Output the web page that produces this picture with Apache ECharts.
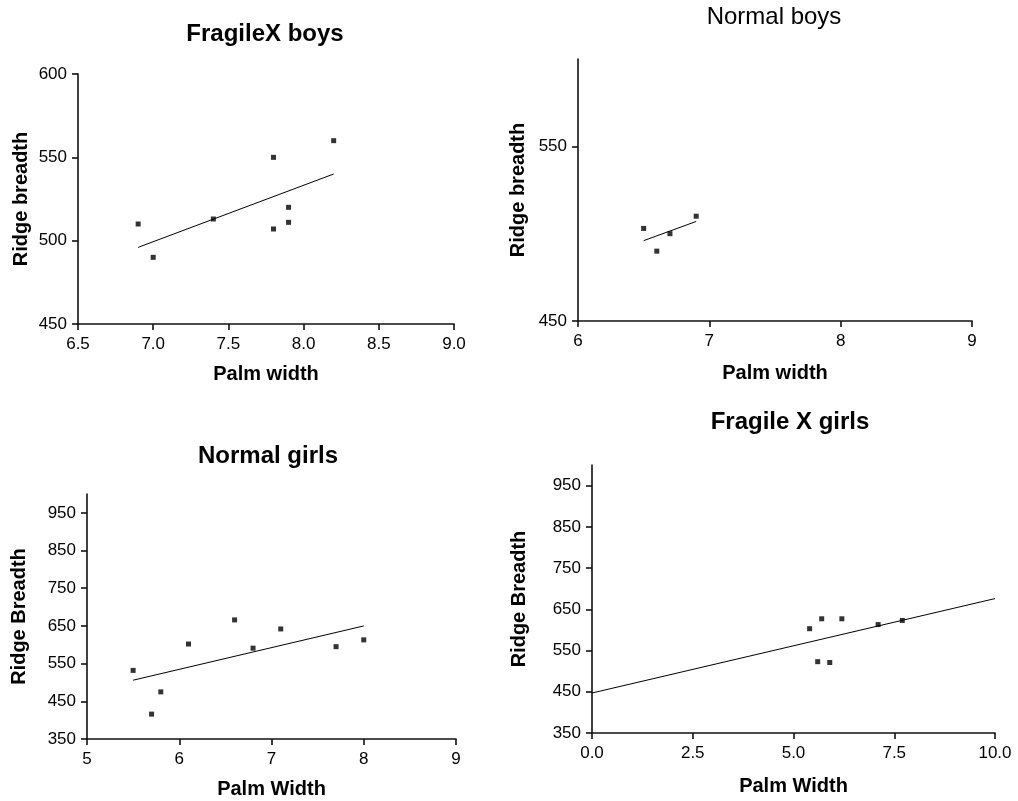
<!DOCTYPE html>
<html>
<head>
<meta charset="utf-8">
<script src="https://cdn.jsdelivr.net/npm/echarts@6/dist/echarts.min.js"></script>
<style>
html,body{margin:0;padding:0;background:#fff;}
#chart{width:1018px;height:801px;}
</style>
</head>
<body>
<div id="chart"></div>
<script>
// ---- Data ----
const panelTitles = ['FragileX boys', 'Normal boys', 'Normal girls', 'Fragile X girls'];
const xNames = ['Palm width', 'Palm width', 'Palm Width', 'Palm Width'];
const yNames = ['Ridge breadth', 'Ridge breadth', 'Ridge Breadth', 'Ridge Breadth'];

// FragileX boys
const fxBoysPalm  = [6.9, 7.0, 7.4, 7.8, 7.8, 7.9, 7.9, 8.2];
const fxBoysRidge = [510, 490, 513, 550, 507, 520, 511, 560];
const fxBoysFitX  = [6.9, 8.2];
const fxBoysFitY  = [496, 540];

// Normal boys
const nBoysPalm  = [6.5, 6.6, 6.7, 6.9];
const nBoysRidge = [503, 490, 500, 510];
const nBoysFitX  = [6.5, 6.9];
const nBoysFitY  = [496, 507];

// Normal girls
const nGirlsPalm  = [5.5, 5.7, 5.8, 6.1, 6.6, 6.8, 7.1, 7.7, 8.0];
const nGirlsRidge = [532, 416, 475, 602, 666, 591, 642, 595, 613];
const nGirlsFitX  = [5.5, 8.0];
const nGirlsFitY  = [506, 650];

// Fragile X girls
const fxGirlsPalm  = [5.4, 5.6, 5.7, 5.9, 6.2, 7.1, 7.7];
const fxGirlsRidge = [603, 523, 627, 521, 627, 613, 623];
const fxGirlsFitX  = [0, 10];
const fxGirlsFitY  = [447, 676];

// Axis ranges and tick labels
const xRanges = [[6.5, 9.0, 0.5], [6, 9, 1], [5, 9, 1], [0, 10, 2.5]];
const yRanges = [[450, 600], [450, 600], [350, 1000], [350, 1000]];
const yTicks = [
  [450, 500, 550, 600],
  [450, 550],
  [350, 450, 550, 650, 750, 850, 950],
  [350, 450, 550, 650, 750, 850, 950]
];
const xDecimals = [1, 0, 0, 1];

// ---- Layout ----
const grids = [
  {left: 78,  top: 74,  width: 376, height: 250},
  {left: 578, top: 59,  width: 394, height: 262},
  {left: 87,  top: 494, width: 369, height: 245},
  {left: 592, top: 465, width: 403, height: 268}
];
const titlePos = [
  {left: 265, top: 22, bold: true},
  {left: 774, top: 5, bold: false},
  {left: 268, top: 444, bold: true},
  {left: 790, top: 410, bold: true}
];
const yNameGaps = [47, 50, 58, 63];
const xNameGaps = [40, 42, 40, 43];

const FONT = '"Liberation Sans", Arial, sans-serif';
const axisLineStyle = {color: '#111', width: 1.6};

const pts = [
  [fxBoysPalm, fxBoysRidge, fxBoysFitX, fxBoysFitY],
  [nBoysPalm, nBoysRidge, nBoysFitX, nBoysFitY],
  [nGirlsPalm, nGirlsRidge, nGirlsFitX, nGirlsFitY],
  [fxGirlsPalm, fxGirlsRidge, fxGirlsFitX, fxGirlsFitY]
];

const option = {
  backgroundColor: '#fff',
  animation: false,
  title: panelTitles.map((t, i) => ({
    text: t,
    left: titlePos[i].left,
    top: titlePos[i].top,
    textAlign: 'center',
    padding: 0,
    textStyle: {
      fontFamily: FONT, fontSize: 24,
      fontWeight: titlePos[i].bold ? 'bold' : 'normal',
      color: '#000'
    }
  })),
  grid: grids,
  xAxis: grids.map((g, i) => ({
    type: 'value',
    gridIndex: i,
    min: xRanges[i][0], max: xRanges[i][1], interval: xRanges[i][2],
    name: xNames[i],
    nameLocation: 'middle',
    nameGap: xNameGaps[i],
    nameTextStyle: {fontFamily: FONT, fontSize: 20, fontWeight: 'bold', color: '#000'},
    axisLine: {show: true, lineStyle: axisLineStyle},
    axisTick: {show: true, length: 6, lineStyle: axisLineStyle},
    axisLabel: {
      fontFamily: FONT, fontSize: 17, color: '#000', margin: 12,
      formatter: v => v.toFixed(xDecimals[i])
    },
    splitLine: {show: false}
  })),
  yAxis: grids.map((g, i) => ({
    type: 'value',
    gridIndex: i,
    min: yRanges[i][0], max: yRanges[i][1],
    name: yNames[i],
    nameLocation: 'middle',
    nameGap: yNameGaps[i],
    nameRotate: 90,
    nameTextStyle: {fontFamily: FONT, fontSize: 20, fontWeight: 'bold', color: '#000'},
    axisLine: {show: true, lineStyle: axisLineStyle},
    axisTick: {show: true, length: 6, lineStyle: axisLineStyle, customValues: yTicks[i]},
    axisLabel: {
      fontFamily: FONT, fontSize: 17, color: '#000', margin: 11,
      customValues: yTicks[i]
    },
    splitLine: {show: false}
  })),
  series: []
};

pts.forEach((p, i) => {
  option.series.push({
    type: 'scatter',
    xAxisIndex: i, yAxisIndex: i,
    symbol: 'rect', symbolSize: 5,
    itemStyle: {color: '#000'},
    data: p[0].map((x, k) => [x, p[1][k]]),
    z: 3
  });
  option.series.push({
    type: 'line',
    xAxisIndex: i, yAxisIndex: i,
    symbol: 'none',
    lineStyle: {color: '#000', width: 1},
    data: p[2].map((x, k) => [x, p[3][k]]),
    z: 2
  });
});

const chart = echarts.init(document.getElementById('chart'), null, {renderer: 'canvas'});
chart.setOption(option);
</script>
</body>
</html>
